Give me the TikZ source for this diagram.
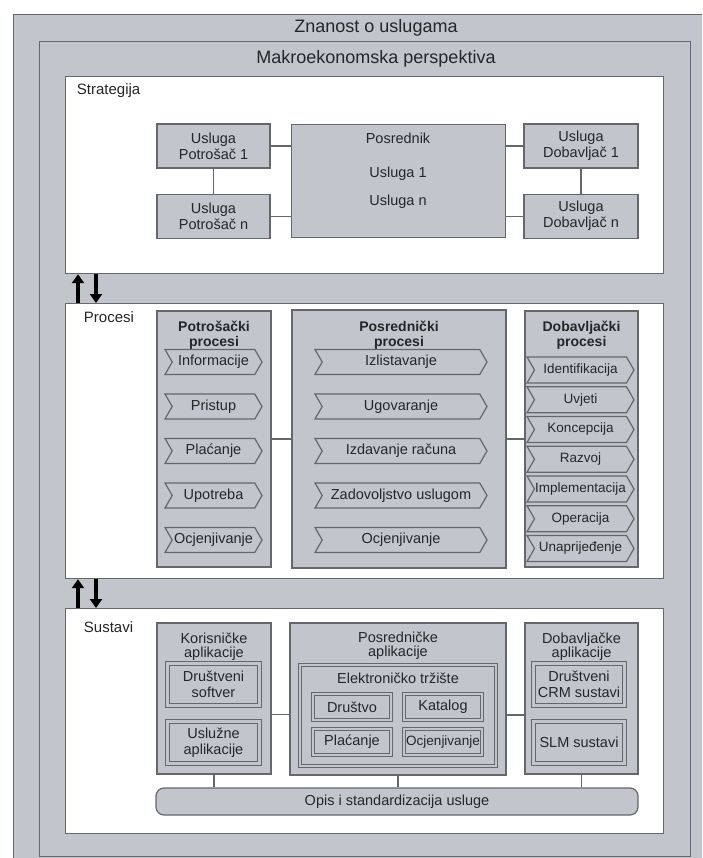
\documentclass[tikz,border=0pt]{standalone}
\usepackage{fontspec}
\setmainfont{Liberation Sans}
\usepackage{tikz}
\usetikzlibrary{arrows.meta, positioning, shapes.symbols}
\definecolor{panelgray}{RGB}{194,198,204}
\definecolor{linegray}{RGB}{100,103,108}
\definecolor{textgray}{RGB}{38,38,40}

\begin{document}
\begin{tikzpicture}[x=1pt,y=-1pt,line width=1.2pt,
    every node/.style={text=textgray,font=\fontsize{14.5}{16}\selectfont}]
  \tikzstyle{panel}=[draw=linegray,fill=panelgray,inner sep=0pt]
  \tikzstyle{layer}=[draw=linegray,fill=white,inner sep=0pt,anchor=north west,minimum width=598pt]
  \tikzstyle{box}=[draw=linegray,fill=panelgray,align=center,inner sep=0pt]
  \tikzstyle{dbox}=[box,double=panelgray,double distance=2.5pt]
  \tikzstyle{chev}=[signal,signal to=east,signal from=west,signal pointer angle=120,
    draw=linegray,fill=panelgray,inner sep=0pt,minimum height=25pt]
  \tikzstyle{title}=[font=\fontsize{18}{20}\selectfont]
  \tikzstyle{layername}=[anchor=west,font=\fontsize{15}{17}\selectfont]
  \tikzstyle{head}=[align=center,font=\bfseries\fontsize{14}{15}\selectfont]
  \tikzstyle{apphead}=[align=center,font=\fontsize{14.5}{14}\selectfont]
  \tikzstyle{conn}=[draw=linegray]
  \tikzstyle{bigarrow}=[-{Triangle[width=12pt,length=9pt]},line width=4.5pt,black]

  \useasboundingbox (0,0) rectangle (702,858);
  \clip (0,0) rectangle (702,858);

  % frames
  \node[panel,anchor=north west,minimum width=720pt,minimum height=880pt] (znanost) at (13,14) {};
  \node[panel,anchor=north west,minimum width=651pt,minimum height=815pt] (makro) at (39,41) {};
  \node[title] (znanostlbl) at (376,28) {Znanost o uslugama};
  \node[title] (makrolbl) at (376,59) {Makroekonomska perspektiva};

  \node[layer,minimum height=197pt] (strat) at (65,76) {};
  \node[layer,minimum height=275pt] (proc) at (65,303) {};
  \node[layer,minimum height=225pt] (sust) at (65,608) {};
  \node[layername] (stratlbl) at (73,91) {Strategija};
  \node[layername] (proclbl) at (80,317) {Procesi};
  \node[layername] (sustlbl) at (80,627) {Sustavi};

  \draw[bigarrow] ([xshift=13pt]proc.north west) -- ([xshift=13pt]strat.south west);
  \draw[bigarrow] ([xshift=31pt]strat.south west) -- ([xshift=31pt]proc.north west);
  \draw[bigarrow] ([xshift=13pt]sust.north west) -- ([xshift=13pt]proc.south west);
  \draw[bigarrow] ([xshift=31pt]proc.south west) -- ([xshift=31pt]sust.north west);

  % strategija
  \node[box,minimum width=113pt,minimum height=44pt] (up1) at (213.5,146) {Usluga\\Potrošač 1};
  \node[box,minimum width=113pt,minimum height=44pt,below=25pt of up1] (upn) {Usluga\\Potrošač n};
  \node[box,anchor=north west,minimum width=214pt,minimum height=113pt] (posr) at (291,124) {};
  \node (posrlbl) at (398,138) {Posrednik};
  \node (usl1) at (398,174) {Usluga 1};
  \node (usln) at (398,202) {Usluga n};
  \node[box,minimum width=114pt,minimum height=44pt] (ud1) at (581,146) {Usluga\\Dobavljač 1};
  \node[box,minimum width=114pt,minimum height=44pt,below=25pt of ud1] (udn) {Usluga\\Dobavljač n};

  \path[conn]
  (up1)      edge (upn)
  (ud1)      edge (udn)
  (up1.east) edge (up1.east -| posr.west)
  (upn.east) edge (upn.east -| posr.west)
  (ud1.west) edge (ud1.west -| posr.east)
  (udn.west) edge (udn.west -| posr.east)
  ;

  % procesi
  \node[box,minimum width=114pt,minimum height=256pt] (potr) at (214,439) {};
  \node[head] (potrlbl) at (214,335) {Potrošački\\procesi};
  \foreach \t [count=\i from 0] in {Informacije,Pristup,Plaćanje,Upotreba,Ocjenjivanje}
    \node[chev,minimum width=97pt] (potr\i) at (213.5,{362+44.5*\i}) {\t};

  \node[box,minimum width=214pt,minimum height=258pt] (posp) at (399,439) {};
  \node[head] (posplbl) at (399,335) {Posrednički\\procesi};
  \foreach \t [count=\i from 0] in {Izlistavanje,Ugovaranje,Izdavanje računa,Zadovoljstvo uslugom,Ocjenjivanje}
    \node[chev,minimum width=172pt] (posp\i) at (401,{362+44.5*\i}) {\t};

  \node[box,minimum width=113pt,minimum height=256pt] (dobp) at (581.5,439) {};
  \node[head] (dobplbl) at (581.5,335) {Dobavljački\\procesi};
  \foreach \t [count=\i from 0] in {Identifikacija,Uvjeti,Koncepcija,Razvoj,Implementacija,Operacija,Unaprijeđenje}
    \node[chev,minimum width=107pt,minimum height=26pt,font=\fontsize{13.5}{15}\selectfont]
      (dobp\i) at (580.5,{370+29.75*\i}) {\t};

  \path[conn]
  (potr) edge (posp)
  (posp) edge (dobp)
  ;

  % sustavi
  \node[box,minimum width=114pt,minimum height=151pt] (kora) at (214,698.5) {};
  \node[apphead] (koralbl) at (214,647) {Korisničke\\aplikacije};
  \node[dbox,minimum width=92pt,minimum height=42pt] (drsoft) at (213.5,684.5) {Društveni\\softver};
  \node[dbox,minimum width=92pt,minimum height=42pt] (uslapp) at (213.5,742.5) {Uslužne\\aplikacije};

  \node[box,minimum width=216pt,minimum height=152pt] (posa) at (398,699) {};
  \node[apphead] (posalbl) at (398,646) {Posredničke\\aplikacije};
  \node[dbox,minimum width=196pt,minimum height=101pt] (etrz) at (398,715.5) {};
  \node (etrzlbl) at (398,678) {Elektroničko tržište};
  \node[dbox,minimum width=78pt,minimum height=26pt] (drustvo) at (352,707) {Društvo};
  \node[dbox,minimum width=78pt,minimum height=26pt] (katalog) at (443,707) {Katalog};
  \node[dbox,minimum width=78pt,minimum height=26pt] (placanje) at (352,742) {Plaćanje};
  \node[dbox,minimum width=78pt,minimum height=26pt,font=\fontsize{13.5}{15}\selectfont]
    (ocjena) at (443,742) {Ocjenjivanje};

  \node[box,minimum width=113pt,minimum height=151pt] (doba) at (581.5,698.5) {};
  \node[apphead] (dobalbl) at (581.5,647) {Dobavljačke\\aplikacije};
  \node[dbox,minimum width=91pt,minimum height=42pt] (crm) at (579,684.5) {Društveni\\CRM sustavi};
  \node[dbox,minimum width=91pt,minimum height=42pt] (slm) at (579,742.5) {SLM sustavi};

  \node[box,rounded corners=8pt,minimum width=482pt,minimum height=27pt] (opis) at (397,801.5)
    {Opis i standardizacija usluge};

  \coordinate (kcon) at ([yshift=-16pt]kora.east);
  \coordinate (pcon) at ([yshift=-16pt]posa.east);
  \path[conn]
  (kcon)       edge (kcon -| posa.west)
  (pcon)       edge (pcon -| doba.west)
  (kora.south) edge (kora.south |- opis.north)
  (posa.south) edge (posa.south |- opis.north)
  (doba.south) edge (doba.south |- opis.north)
  ;
\end{tikzpicture}
\end{document}
